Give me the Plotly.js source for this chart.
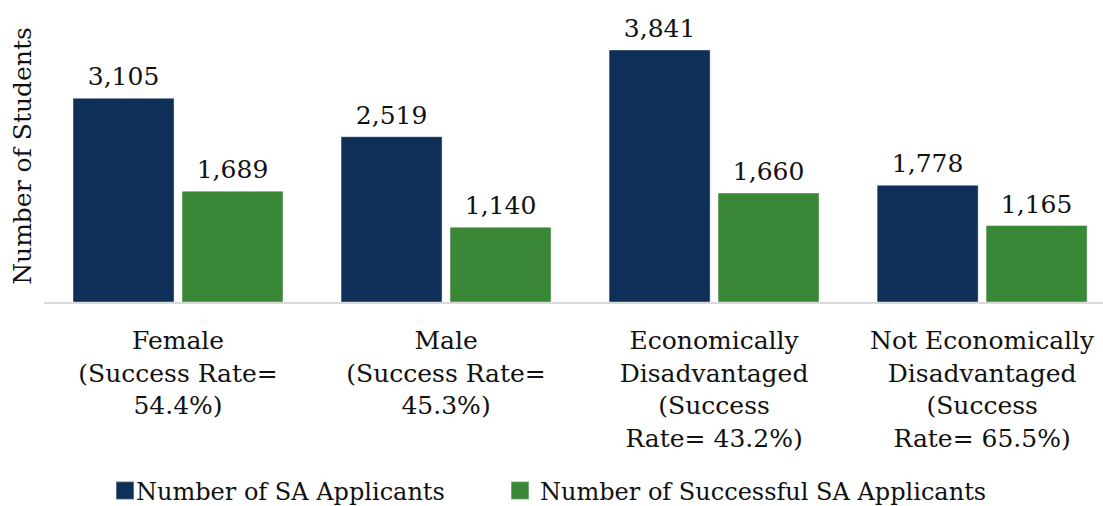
<!DOCTYPE html>
<html>
<head>
<meta charset="utf-8">
<script src="https://cdn.plot.ly/plotly-3.0.1.min.js"></script>
<style>html,body{margin:0;padding:0;background:#fff;}#chart{width:1103px;height:506px;}</style>
</head>
<body>
<div id="chart"></div>
<script>
const categories = [
  "Female<br>(Success Rate=<br>54.4%)",
  "Male<br>(Success Rate=<br>45.3%)",
  "Economically<br>Disadvantaged<br>(Success<br>Rate= 43.2%)",
  "Not Economically<br>Disadvantaged<br>(Success<br>Rate= 65.5%)"
];
const applicants = [3105, 2519, 3841, 1778];
const successful = [1689, 1140, 1660, 1165];
const seriesNames = ["Number of SA Applicants", "Number of Successful SA Applicants"];

const FONT = "DejaVu Serif, serif";
const fmt = v => v.toLocaleString('en-US');

const traces = [
  {
    type: 'bar', x: categories, y: applicants, name: seriesNames[0], legend: 'legend',
    marker: {color: '#0E2F57', line: {color: 'rgba(255,255,255,0.4)', width: 1}},
    text: applicants.map(fmt), textposition: 'outside', cliponaxis: false,
    textfont: {family: FONT, size: 25, color: '#111'}
  },
  {
    type: 'bar', x: categories, y: successful, name: seriesNames[1], legend: 'legend2',
    marker: {color: '#3A8738', line: {color: 'rgba(255,255,255,0.4)', width: 1}},
    text: successful.map(fmt), textposition: 'outside', cliponaxis: false,
    textfont: {family: FONT, size: 25, color: '#111'}
  }
];

const legendBase = {
  orientation: 'h', xref: 'container', yref: 'container',
  xanchor: 'left', y: 0.03, yanchor: 'middle',
  font: {family: FONT, size: 24, color: '#111'},
  itemwidth: 30, bgcolor: 'rgba(0,0,0,0)'
};

const layout = {
  width: 1103, height: 506,
  margin: {l: 44, r: 0, t: 10, b: 204},
  paper_bgcolor: '#fff', plot_bgcolor: '#fff',
  font: {family: FONT, size: 24, color: '#111'},
  barmode: 'group', bargap: 0.187, bargroupgap: 0.073,
  showlegend: true,
  xaxis: {
    type: 'category', range: [-0.5, 3.451],
    showline: true, linecolor: '#D9D9D9', linewidth: 2,
    ticks: '', ticklabelstandoff: 15,
    tickfont: {family: FONT, size: 25, color: '#111'},
    showgrid: false, zeroline: false, fixedrange: true
  },
  yaxis: {
    range: [0, 4450], showticklabels: false, showgrid: false, zeroline: false,
    showline: false, ticks: '',
    title: {text: 'Number of Students', font: {family: FONT, size: 25, color: '#111'}, standoff: 4}
  },
  legend: Object.assign({}, legendBase, {x: 105 / 1103}),
  legend2: Object.assign({}, legendBase, {x: 500 / 1103})
};

function tweak(gd) {
  gd.querySelectorAll('.legendpoints path').forEach(p => {
    if (p.dataset.orig === undefined) p.dataset.orig = p.getAttribute('transform') || '';
    p.setAttribute('transform', p.dataset.orig + ' scale(1.5)');
  });
  gd.querySelectorAll('.legendtext').forEach(t => {
    t.setAttribute('x', 31);
    t.querySelectorAll('tspan[x]').forEach(s => s.setAttribute('x', 31));
  });
  gd.querySelectorAll('.bartext').forEach(t => {
    if (t.dataset.orig === undefined) t.dataset.orig = t.getAttribute('transform') || '';
    t.setAttribute('transform', 'translate(0,-4) ' + t.dataset.orig);
  });
}

Plotly.newPlot('chart', traces, layout, {displayModeBar: false, staticPlot: true}).then(gd => {
  tweak(gd);
  setTimeout(() => tweak(gd), 50);
  setTimeout(() => tweak(gd), 300);
});
</script>
</body>
</html>
